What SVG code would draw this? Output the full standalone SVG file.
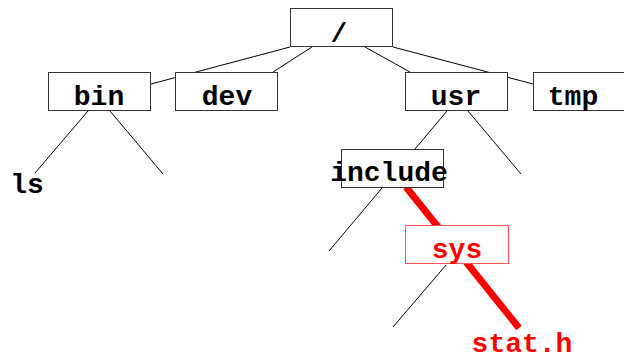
<svg xmlns="http://www.w3.org/2000/svg" width="624" height="361" viewBox="0 0 624 361">
<style>
.box{fill:#fff;stroke:#333;stroke-width:1}
.rbox{fill:#fff;stroke:#ff5050;stroke-width:1}
.t{font-family:"Liberation Mono","Courier New",monospace;font-weight:bold;font-size:28px;text-anchor:middle;fill:#000}
.rt{fill:#ff0000}
.e{stroke:#000;stroke-width:1;fill:none}
.re{stroke:#ff0000;stroke-width:7;fill:none}
</style>
<rect width="624" height="361" fill="#fff"/>
<g id="connectors">
<line class="e" x1="290" y1="47" x2="151" y2="84"/>
<line class="e" x1="312" y1="47" x2="273" y2="72"/>
<line class="e" x1="365" y1="47" x2="410" y2="72"/>
<line class="e" x1="393" y1="47" x2="533" y2="84"/>
<line class="e" x1="88" y1="111" x2="35" y2="173"/>
<line class="e" x1="110" y1="111" x2="163" y2="174"/>
<line class="e" x1="447" y1="111" x2="415" y2="149"/>
<line class="e" x1="468" y1="111" x2="521" y2="174"/>
<line class="e" x1="382" y1="188" x2="329" y2="251"/>
<line class="re" x1="406" y1="187" x2="519" y2="328"/>
<line class="e" x1="446" y1="265" x2="393" y2="327"/>
</g>
<g id="root"><rect class="box" x="290.5" y="8.5" width="102" height="38"/><text class="t" x="339" y="42">/</text></g>
<g id="bin"><rect class="box" x="48.5" y="72.5" width="102" height="38"/><text class="t" x="99" y="105">bin</text></g>
<g id="dev"><rect class="box" x="175.5" y="72.5" width="102" height="38"/><text class="t" x="227" y="105">dev</text></g>
<g id="usr"><rect class="box" x="405.5" y="72.5" width="102" height="38"/><text class="t" x="456" y="105">usr</text></g>
<g id="tmp"><rect class="box" x="533.5" y="72.5" width="102" height="38"/><text class="t" x="573" y="105">tmp</text></g>
<g id="ls"><text class="t" x="27" y="193">ls</text></g>
<g id="include"><rect class="box" x="341.5" y="149.5" width="102" height="38"/><text class="t" x="389" y="181">include</text></g>
<g id="sys"><rect class="rbox" x="405.5" y="225.5" width="103" height="38"/><text class="t rt" x="457" y="258">sys</text></g>
<g id="stat"><text class="t rt" x="522" y="352">stat.h</text></g>
</svg>
